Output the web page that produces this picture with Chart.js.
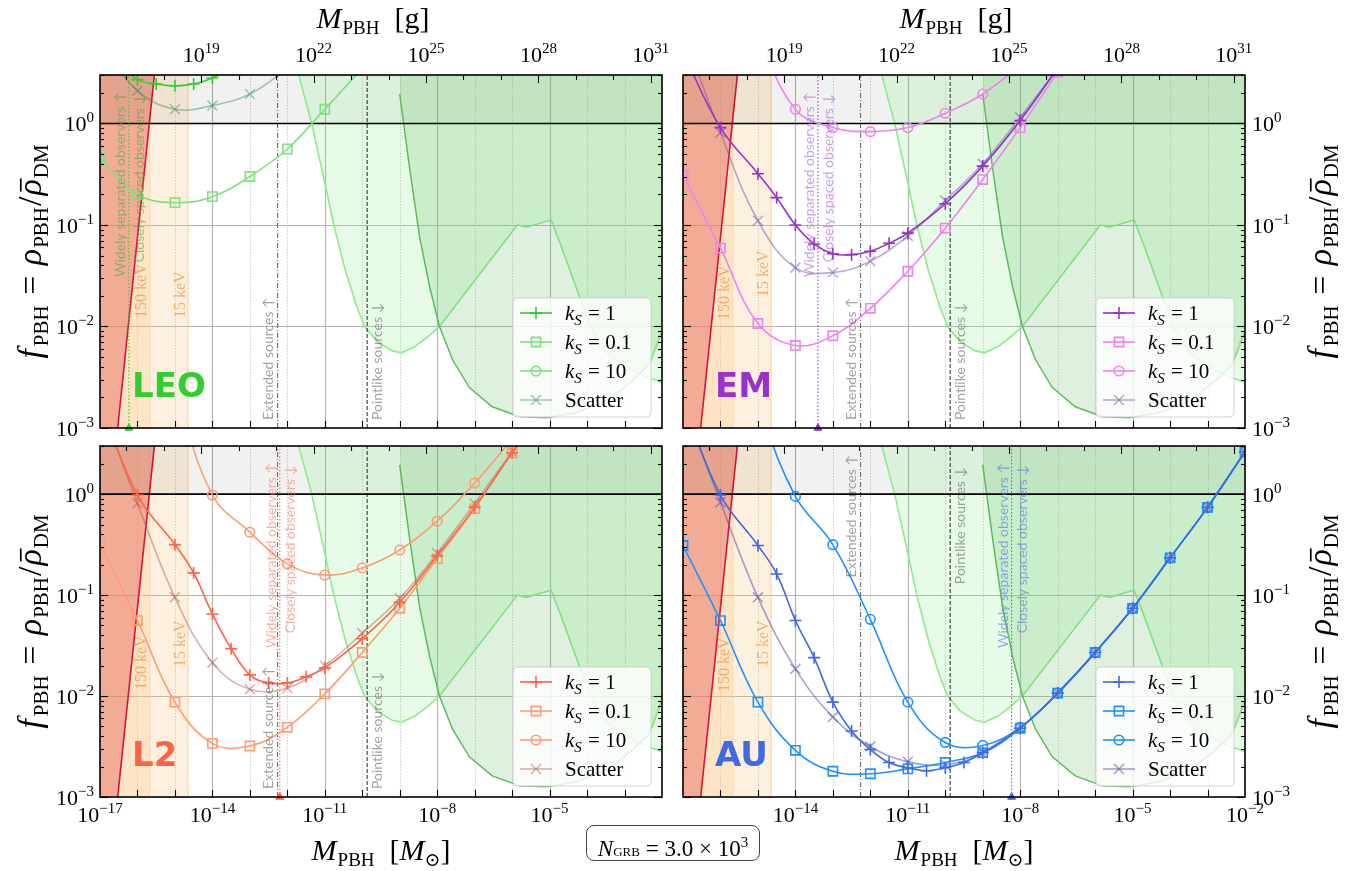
<!DOCTYPE html>
<html>
<head>
<meta charset="utf-8">
<script src="https://cdn.jsdelivr.net/npm/chart.js@4.4.1/dist/chart.umd.min.js"></script>
<style>
  body { margin: 0; background: #fff; }
  #wrap { position: relative; width: 1364px; height: 871px; overflow: hidden; }
  .q { position: absolute; }
  #ngrb { position: absolute; left: 586px; top: 825px; width: 174px; height: 36px; border: 1.5px solid #444;
          border-radius: 8px; box-sizing: border-box; font-family: "Liberation Serif", serif; font-size: 23px;
          text-align: center; line-height: 33px; background: #fff; }
</style>
</head>
<body>
<div id="wrap">
  <canvas class="q" id="cLEO" width="682" height="437" style="left:0;top:0"></canvas>
  <canvas class="q" id="cEM" width="682" height="437" style="left:682px;top:0"></canvas>
  <canvas class="q" id="cL2" width="682" height="434" style="left:0;top:437px"></canvas>
  <canvas class="q" id="cAU" width="682" height="434" style="left:682px;top:437px"></canvas>
  <div id="ngrb"><i>N</i><span style="font-size:13px">GRB</span> = 3.0 × 10<sup style="font-size:15px">3</sup></div>
</div>
<script>
// masses in solar masses, f = rho_PBH / rho_DM
const mDec = [1e-17,1e-16,1e-15,1e-14,1e-13,1e-12,1e-11,1e-10,1e-9,1e-8,1e-7,1e-6,1e-5,1e-4,1e-3,1e-2];

// LEO
const leoK1M = [1e-17,3.16e-17,1e-16,3.16e-16,1e-15,3.16e-15,1e-14,3.16e-14,1e-13];
const leoK1F = [6.0,4.0,2.7,2.45,2.35,2.45,2.8,3.6,5.0];
const leoK01F = [0.46,0.20,0.166,0.19,0.30,0.56,1.38,3.5,9.0];
const leoK10F = [30,15,10,9,10,14,22,40,80];
const leoScF = [6.0,2.1,1.38,1.5,1.95,3.5,7.0];

// EM
const emK1M = [1e-17,1e-16,1e-15,3.16e-15,1e-14,3.16e-14,1e-13,3.16e-13,1e-12,3.16e-12,1e-11,1e-10,1e-9,1e-8,1e-7];
const emK1F = [5.0,0.91,0.32,0.186,0.10,0.065,0.052,0.051,0.055,0.066,0.083,0.162,0.38,1.07,3.5];
const emK01F = [0.31,0.059,0.0107,0.0065,0.0081,0.0151,0.035,0.093,0.28,0.91,3.2];
const emK10F = [100,30,7,1.38,0.91,0.83,0.91,1.26,1.95,3.8,9];
const emScF = [8,0.81,0.11,0.038,0.034,0.044,0.078,0.174,0.40,1.15,3.5];

// L2
const l2K1M = [1e-17,1e-16,1e-15,3.16e-15,1e-14,3.16e-14,1e-13,3.16e-13,1e-12,3.16e-12,1e-11,1e-10,1e-9,1e-8,1e-7,1e-6,1e-5];
const l2K1F = [8,0.98,0.316,0.166,0.065,0.0295,0.0162,0.0135,0.0135,0.0155,0.019,0.037,0.085,0.245,0.74,2.57,8];
const l2K01F = [0.32,0.056,0.0087,0.0034,0.0032,0.0049,0.0105,0.027,0.074,0.23,0.72,2.57,8];
const l2K10F = [300,60,10,0.98,0.42,0.204,0.158,0.186,0.28,0.54,1.29,3.5];
const l2ScF = [8,0.81,0.095,0.0214,0.0117,0.012,0.02,0.042,0.093,0.26,0.81,2.63,8];

// AU
const auK1M = [1e-17,1e-16,1e-15,3.16e-15,1e-14,3.16e-14,1e-13,3.16e-13,1e-12,3.16e-12,1e-11,3.16e-11,1e-10,3.16e-10,1e-9,1e-8,1e-7,1e-6,1e-5,1e-4,1e-3,1e-2];
const auK1F = [8,0.98,0.31,0.162,0.056,0.024,0.0087,0.0045,0.00295,0.0022,0.00195,0.00182,0.00195,0.0022,0.00275,0.0048,0.0107,0.027,0.074,0.234,0.74,2.63];
const auK01F = [0.31,0.056,0.0087,0.0029,0.0018,0.0017,0.0019,0.0022,0.00275,0.0048,0.0107,0.027,0.074,0.234,0.74,2.63];
const auK10F = [1000,100,8,0.95,0.316,0.0575,0.0087,0.00347,0.00324,0.0049,0.0107,0.027,0.074,0.234,0.74,2.63];
const auScF = [8,0.83,0.095,0.0186,0.0062,0.00316,0.00224,0.00209,0.0027,0.0048,0.0107,0.027,0.074,0.234,0.74,2.63];

// existing constraints (same in every panel)
const evapM = [1e-17, 2.82e-16];
const evapF = [2.1e-5, 3];
const hscM = [1.78e-12,4.47e-12,8.9e-12,1.74e-11,3.55e-11,7.1e-11,1.15e-10,2.5e-10,6.3e-10,1.12e-9,2.5e-9,5.6e-9,1.15e-8,1.38e-6,2.4e-6,1.1e-5,2.0e-5,6.3e-5,1.38e-4,3.16e-4,7.2e-4,2.5e-3,1e-2];
const hscF = [3.55,1.0,0.316,0.1,0.0355,0.0158,0.01,0.0071,0.00575,0.0055,0.0063,0.0079,0.01,0.1,0.095,0.112,0.063,0.0195,0.0091,0.0056,0.0044,0.0034,0.0028];
const eroM = [1e-9,1.86e-9,3.4e-9,6.3e-9,1.15e-8,2.57e-8,7.2e-8,2.95e-7,1.58e-6,8.1e-6,5.1e-5,3.9e-4,1.6e-3,4.5e-3,1e-2];
const eroF = [1.95,0.35,0.076,0.0245,0.01,0.0047,0.0025,0.00162,0.00129,0.00126,0.00141,0.0019,0.0029,0.0042,0.0089];
const risingM = [4.5e-3, 1e-2];
const risingF = [0.0042, 0.0089];
const band150M = [1e-17, 2.14e-16];
const band15M = [1e-17, 2.24e-15];
const bandF = [1e-6, 1e-6];
const unityM = [1e-17, 1e-2];
const unityF = [1, 1];
const edgeF = [1e-3, 3];
const extendedM = 5.5e-13;
const pointlikeM = 1.35e-10;
const obsLEO = 5.9e-17, obsEM = 4.0e-14, obsL2 = 6.3e-13, obsAU = 5.9e-9;

// tick labels
const fLabelExp = [-3,-2,-1,0];
const gramLabelExp = [19,22,25,28,31];
const massLabelL = [-17,-14,-11,-8,-5];
const massLabelR = [-14,-11,-8,-5,-2];
const MSUN_G = 1.989e33;

const SERIF = '"Liberation Serif","DejaVu Serif",serif';
const SANS = 'Lato,"Open Sans","DejaVu Sans",sans-serif';
function F(size, style) { return (style ? style + ' ' : '') + size + 'px ' + SERIF; }

const PANELS = {
  cLEO: {name:'LEO', k1:'#32cd32', k01:'#80e080', sc:'rgba(60,140,90,0.45)', obsM:obsLEO, obsTxt:'rgba(60,170,60,0.55)',
         srcAt:'bottom', keV150y:243, keV15y:243, left:true, top:true, xl:null},
  cEM:  {name:'EM', k1:'#9932cc', k01:'#ee82ee', sc:'rgba(120,90,175,0.5)', obsM:obsEM, obsTxt:'rgba(160,80,210,0.55)',
         srcAt:'bottom', keV150y:245, keV15y:222, left:false, top:true, xl:null},
  cL2:  {name:'L2', k1:'#ff6347', k01:'#ff9c74', sc:'rgba(175,85,85,0.45)', obsM:obsL2, obsTxt:'rgba(245,120,100,0.6)',
         srcAt:'bottom', keV150y:244, keV15y:221, left:true, top:false, xl:massLabelL},
  cAU:  {name:'AU', k1:'#4169e1', k01:'#1e90ff', sc:'rgba(95,80,165,0.55)', obsM:obsAU, obsTxt:'rgba(80,120,220,0.6)',
         srcAt:'top', keV150y:246, keV15y:221, left:false, top:false, xl:massLabelR}
};

function pts(xs, ys) {
  return ys.map((v, i) => ({x: xs[i], y: v}));
}

function ref(data, opts) {
  return Object.assign({data: data, pointRadius: 0, borderWidth: 0, borderColor: 'rgba(0,0,0,0)', fill: false, tension: 0}, opts);
}

function segW(ctx, segs) {
  let w = 0;
  segs.forEach(s => { ctx.font = s.f; w += ctx.measureText(s.t).width + (s.sp || 0); });
  return w;
}
function drawSegs(ctx, segs, x, y, align) {
  const w = segW(ctx, segs);
  let cx = align === 'center' ? x - w / 2 : (align === 'right' ? x - w : x);
  ctx.textAlign = 'left';
  ctx.textBaseline = 'alphabetic';
  segs.forEach(s => {
    ctx.font = s.f;
    const tw = ctx.measureText(s.t).width;
    ctx.fillText(s.t, cx, y + (s.dy || 0));
    if (s.bar) {
      const fz = parseFloat(s.f.replace(/^[a-z ]*/, ''));
      ctx.fillRect(cx + tw * 0.25, y - fz * 0.62, tw * 0.8, Math.max(1.2, fz * 0.05));
    }
    cx += tw + (s.sp || 0);
  });
}
function expSegs(e, fs) {
  return [{t:'10', f:F(fs)}, {t:(e < 0 ? '\u2212' : '') + Math.abs(e), f:F(Math.round(fs * 0.7)), dy:-Math.round(fs * 0.42)}];
}
function kSegs(v, fs) {
  return [{t:'k', f:F(fs, 'italic')}, {t:'S', f:F(Math.round(fs * 0.7), 'italic'), dy:Math.round(fs * 0.22), sp:1}, {t:' = ' + v, f:F(fs)}];
}
function subSegs(fs) { return {f:F(Math.round(fs * 0.62)), dy:Math.round(fs * 0.2)}; }
function fTitle(fs) {
  const s = subSegs(fs);
  return [{t:'f', f:F(fs, 'italic'), sp:3}, {t:'PBH', f:s.f, dy:s.dy, sp:2}, {t:' = ', f:F(fs), sp:2},
          {t:'\u03c1', f:F(fs, 'italic'), sp:1}, {t:'PBH', f:s.f, dy:s.dy, sp:1}, {t:'/', f:F(fs), sp:1},
          {t:'\u03c1', f:F(fs, 'italic'), sp:1, bar:true}, {t:'DM', f:s.f, dy:s.dy}];
}
function mTitle(fs, unit) {
  const s = subSegs(fs);
  const out = [{t:'M', f:F(fs, 'italic'), sp:1}, {t:'PBH', f:s.f, dy:s.dy}];
  if (unit === 'g') out.push({t:'  [g]', f:F(fs)});
  else out.push({t:'  [', f:F(fs)}, {t:'M', f:F(fs, 'italic')}, {t:'\u2299', f:s.f, dy:s.dy}, {t:']', f:F(fs)});
  return out;
}
function vtext(ctx, txt, x, y, align, font, color) {
  ctx.save();
  ctx.translate(x, y);
  ctx.rotate(-Math.PI / 2);
  ctx.font = font;
  ctx.fillStyle = color;
  ctx.textAlign = align;
  ctx.textBaseline = 'alphabetic';
  ctx.fillText(txt, 0, 0);
  ctx.restore();
}
function line(ctx, x1, y1, x2, y2) {
  ctx.beginPath(); ctx.moveTo(x1, y1); ctx.lineTo(x2, y2); ctx.stroke();
}
function drawMarker(ctx, style, x, y, r) {
  ctx.beginPath();
  if (style === 'cross') {
    ctx.moveTo(x - r, y); ctx.lineTo(x + r, y); ctx.moveTo(x, y - r); ctx.lineTo(x, y + r);
  } else if (style === 'rect') {
    const s = r * Math.SQRT1_2; ctx.rect(x - s, y - s, 2 * s, 2 * s);
  } else if (style === 'circle') {
    ctx.arc(x, y, r, 0, 2 * Math.PI);
  } else {
    const s = r * Math.SQRT1_2;
    ctx.moveTo(x - s, y - s); ctx.lineTo(x + s, y + s); ctx.moveTo(x + s, y - s); ctx.lineTo(x - s, y + s);
  }
  ctx.stroke();
}

function drawGrid(chart) {
  const {ctx, chartArea: a, scales: {x, y}} = chart;
  ctx.save();
  ctx.beginPath(); ctx.rect(a.left, a.top, a.right - a.left, a.bottom - a.top); ctx.clip();
  for (let e = -16; e <= -3; e++) {
    const px = Math.round(x.getPixelForValue(Math.pow(10, e))) + 0.5;
    const major = (e + 17) % 3 === 0;
    ctx.strokeStyle = major ? '#b4b4b4' : '#c8c8c8';
    ctx.lineWidth = major ? 1.2 : 0.9;
    ctx.setLineDash(major ? [] : [1.5, 1.5]);
    line(ctx, px, a.top, px, a.bottom);
  }
  ctx.setLineDash([]);
  ctx.strokeStyle = '#b4b4b4'; ctx.lineWidth = 1.2;
  [1e-2, 1e-1].forEach(v => {
    const py = Math.round(y.getPixelForValue(v)) + 0.5;
    line(ctx, a.left, py, a.right, py);
  });
  ctx.restore();
}

function drawNotes(chart, p) {
  const {ctx, chartArea: a, scales: {x}} = chart;
  ctx.save();
  ctx.beginPath(); ctx.rect(a.left, a.top, a.right - a.left, a.bottom - a.top); ctx.clip();
  const exX = x.getPixelForValue(extendedM), ptX = x.getPixelForValue(pointlikeM);
  const nf = '14px ' + SANS, gray = 'rgba(100,100,100,0.6)';
  if (p.srcAt === 'bottom') {
    vtext(ctx, 'Extended sources \u2191', exX - 5, a.bottom - 8, 'left', nf, gray);
    vtext(ctx, 'Pointlike sources \u2193', ptX + 15, a.bottom - 8, 'left', nf, gray);
  } else {
    vtext(ctx, 'Extended sources \u2191', exX - 5, a.top + 9, 'right', nf, gray);
    vtext(ctx, 'Pointlike sources \u2193', ptX + 15, a.top + 21, 'right', nf, gray);
  }
  const ox = x.getPixelForValue(p.obsM);
  vtext(ctx, 'Widely separated observers \u2191', ox - 4, a.top + 17, 'right', nf, p.obsTxt);
  vtext(ctx, 'Closely spaced observers \u2193', ox + 15, a.top + 19, 'right', nf, p.obsTxt);
  const b150 = x.getPixelForValue(band150M[1]), b15 = x.getPixelForValue(band15M[1]);
  const kf = '16px ' + SERIF, orange = 'rgba(240,150,70,0.7)';
  vtext(ctx, '150 keV', b150 - 4, a.top + p.keV150y, 'left', kf, orange);
  vtext(ctx, '15 keV', b15 - 3, a.top + p.keV15y, 'left', kf, orange);
  ctx.font = 'bold 34px "DejaVu Sans", sans-serif';
  ctx.fillStyle = p.k1;
  ctx.textAlign = 'left';
  ctx.textBaseline = 'alphabetic';
  ctx.fillText(p.name, a.left + 32, a.bottom - 31);
  ctx.restore();
}

function drawAxes(chart, p) {
  const {ctx, chartArea: a, scales: {x, y, xg}} = chart;
  ctx.save();
  ctx.strokeStyle = '#000';
  ctx.lineWidth = 1.1;
  for (let e = -3; e <= 0; e++) {
    for (let m = 1; m <= 9; m++) {
      const v = m * Math.pow(10, e);
      if (v > 3.001) break;
      const py = Math.round(y.getPixelForValue(v)) + 0.5;
      const L = m === 1 ? 8 : 4;
      line(ctx, a.left, py, a.left + L, py);
      line(ctx, a.right, py, a.right - L, py);
    }
  }
  for (let e = -16; e <= -3; e++) {
    const px = Math.round(x.getPixelForValue(Math.pow(10, e))) + 0.5;
    line(ctx, px, a.bottom, px, a.bottom - 7);
  }
  for (let e = 17; e <= 31; e++) {
    const px = Math.round(xg.getPixelForValue(Math.pow(10, e))) + 0.5;
    if (px < a.left + 1 || px > a.right - 1) continue;
    line(ctx, px, a.top, px, a.top + ((e - 19) % 3 === 0 ? 8 : 5));
  }
  ctx.lineWidth = 1.6;
  ctx.strokeRect(a.left, a.top, a.right - a.left, a.bottom - a.top);

  ctx.fillStyle = '#000';
  fLabelExp.forEach(e => {
    const py = y.getPixelForValue(Math.pow(10, e));
    if (p.left) drawSegs(ctx, expSegs(e, 22), a.left - 6, py + 8, 'right');
    else drawSegs(ctx, expSegs(e, 22), a.right + 7, py + 8, 'left');
  });
  const cx = (a.left + a.right) / 2;
  if (p.top) {
    gramLabelExp.forEach(e => drawSegs(ctx, expSegs(e, 22), xg.getPixelForValue(Math.pow(10, e)), a.top - 13, 'center'));
    drawSegs(ctx, mTitle(30, 'g'), cx - 8, 28, 'center');
  } else {
    p.xl.forEach(e => drawSegs(ctx, expSegs(e, 22), x.getPixelForValue(Math.pow(10, e)), a.bottom + 25, 'center'));
    drawSegs(ctx, mTitle(30, 'sun'), cx, a.bottom + 63, 'center');
  }
  ctx.translate(p.left ? 41 : chart.width - 33, (a.top + a.bottom) / 2);
  ctx.rotate(-Math.PI / 2);
  drawSegs(ctx, fTitle(34), 0, 0, 'center');
  ctx.restore();
}

function drawLegend(chart, p) {
  const {ctx, chartArea: a} = chart;
  const w = 138, h = 119, bx = a.right - 11 - w, by = a.bottom - 11 - h;
  ctx.save();
  ctx.beginPath();
  ctx.roundRect(bx, by, w, h, 4);
  ctx.fillStyle = 'rgba(255,255,255,0.82)';
  ctx.fill();
  ctx.strokeStyle = 'rgba(205,205,205,0.9)';
  ctx.lineWidth = 1;
  ctx.stroke();
  chart.data.datasets.filter(d => d.legendText).forEach((d, i) => {
    const iy = by + 15 + i * 29;
    ctx.strokeStyle = d.borderColor;
    ctx.lineWidth = d.borderWidth;
    line(ctx, bx + 7, iy, bx + 39, iy);
    ctx.lineWidth = d.pointBorderWidth;
    drawMarker(ctx, d.pointStyle, bx + 23, iy, d.pointRadius);
    ctx.fillStyle = '#000';
    const segs = d.legendText === 'Scatter' ? [{t:'Scatter', f:F(21)}] : kSegs(d.legendText, 21);
    drawSegs(ctx, segs, bx + 52, iy + 7, 'left');
  });
  ctx.restore();
}

const decor = {
  id: 'decor',
  beforeDatasetsDraw(chart) { drawGrid(chart); },
  afterDatasetsDraw(chart) { drawNotes(chart, PANELS[chart.canvas.id]); },
  afterDraw(chart) {
    const p = PANELS[chart.canvas.id];
    drawAxes(chart, p);
    drawLegend(chart, p);
  }
};

function curve(data, color, style, r, label, order) {
  return {data: data, borderColor: color, pointBorderColor: color, pointBackgroundColor: 'rgba(0,0,0,0)',
          pointStyle: style, pointRadius: r, pointBorderWidth: 1.6, borderWidth: 1.6, tension: 0.4,
          fill: false, legendText: label, order: order};
}

function buildPanel(id, k1M, k1F, k01F, k10F, scF) {
  const p = PANELS[id];
  const ds = [
    ref(pts(band15M, bandF), {fill: 'end', backgroundColor: 'rgba(253,196,125,0.25)', order: 50}),
    ref(pts(band150M, bandF), {fill: 'end', backgroundColor: 'rgba(253,196,125,0.25)', order: 49}),
    ref(pts([band15M[1], band15M[1]], edgeF), {borderColor: 'rgba(250,185,110,0.45)', borderWidth: 1.5, order: 48}),
    ref(pts([band150M[1], band150M[1]], edgeF), {borderColor: 'rgba(250,185,110,0.35)', borderWidth: 1.2, order: 48}),
    ref(pts(evapM, evapF), {fill: 'end', backgroundColor: 'rgba(226,92,80,0.42)', borderColor: '#dc143c', borderWidth: 1.6, order: 47}),
    ref(pts(unityM, unityF), {fill: 'end', backgroundColor: 'rgba(0,0,0,0.055)', order: 46}),
    ref(pts(hscM, hscF), {fill: 'end', backgroundColor: 'rgba(130,240,130,0.2)', borderColor: '#8fe98f', borderWidth: 1.6, order: 45}),
    ref(pts(eroM, eroF), {fill: 'end', backgroundColor: 'rgba(90,180,90,0.2)', borderColor: '#62b862', borderWidth: 1.5, order: 44}),
    ref(pts(risingM, risingF), {borderColor: '#8fe98f', borderWidth: 1.8, order: 43}),
    ref(pts([extendedM, extendedM], edgeF), {borderColor: 'rgba(70,70,70,0.85)', borderWidth: 1, borderDash: [5, 2, 1, 2], order: 43}),
    ref(pts([pointlikeM, pointlikeM], edgeF), {borderColor: '#222', borderWidth: 1, borderDash: [4, 2], order: 43}),
    ref(pts(unityM, unityF), {borderColor: '#000', borderWidth: 1.6, order: 42}),
    ref(pts([p.obsM, p.obsM], edgeF), {borderColor: p.k1, borderWidth: 1, borderDash: [1.5, 2], order: 41}),
    curve(pts(k1M, k1F), p.k1, 'cross', 6, '1', 1),
    curve(pts(mDec, k01F), p.k01, 'rect', 6.5, '0.1', 2),
    curve(pts(mDec, k10F), p.k01, 'circle', 4.8, '10', 3),
    curve(pts(mDec, scF), p.sc, 'crossRot', 7, 'Scatter', 4),
    {data: [{x: p.obsM, y: 1e-3}], showLine: false, pointStyle: 'triangle', pointRadius: 4.5,
     pointBackgroundColor: p.k1, pointBorderColor: p.k1, clip: false, order: 0}
  ];
  const topH = p.top ? 75 : 9, botH = p.top ? 9 : 74;
  new Chart(document.getElementById(id), {
    type: 'line',
    data: {datasets: ds},
    options: {
      responsive: false,
      animation: false,
      events: [],
      layout: {autoPadding: false, padding: {left: p.left ? 0 : 1, right: p.left ? 20 : 0, top: 0, bottom: 0}},
      elements: {line: {capBezierPoints: false}},
      plugins: {legend: {display: false}, tooltip: {enabled: false}},
      scales: {
        x: {type: 'logarithmic', position: 'bottom', min: 1e-17, max: 1e-2,
            grid: {display: false}, border: {display: false}, ticks: {display: false},
            afterFit: s => { s.height = botH; }},
        xg: {type: 'logarithmic', position: 'top', min: 1e-17 * MSUN_G, max: 1e-2 * MSUN_G,
             grid: {display: false}, border: {display: false}, ticks: {display: false},
             afterFit: s => { s.height = topH; }},
        y: {type: 'logarithmic', position: p.left ? 'left' : 'right', min: 1e-3, max: 3,
            grid: {display: false}, border: {display: false}, ticks: {display: false},
            afterFit: s => { s.width = p.left ? 100 : 119; }}
      }
    },
    plugins: [decor]
  });
}

buildPanel('cLEO', leoK1M, leoK1F, leoK01F, leoK10F, leoScF);
buildPanel('cEM', emK1M, emK1F, emK01F, emK10F, emScF);
buildPanel('cL2', l2K1M, l2K1F, l2K01F, l2K10F, l2ScF);
buildPanel('cAU', auK1M, auK1F, auK01F, auK10F, auScF);
</script>
</body>
</html>
